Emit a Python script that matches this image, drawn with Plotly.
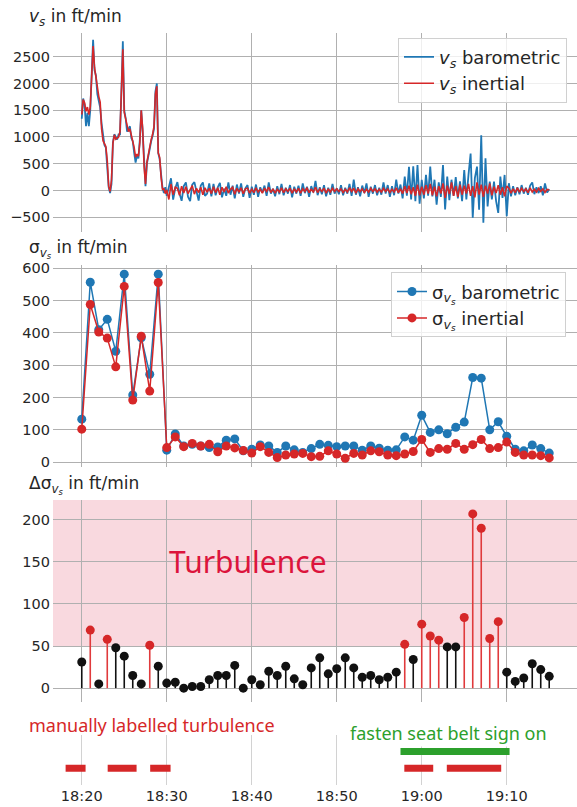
import pandas as pd
import plotly.graph_objects as go

DAY = "2021-06-01 "

# ---------------- data ----------------
# vertical speed v_s during climb, 10 s steps starting 18:20:00 (ft/min)
vs_baro_climb = [1340, 1720, 1600, 1200, 1450, 1200, 1500, 2250, 2820, 2250,
                 2150, 1800, 1700, 1550, 1250, 1000, 850, 800, 500, 60,
                 -50, 120, 900, 1050, 1000, 950, 1050, 1050, 1850, 2790,
                 1500, 1350, 1100, 1150, 1200, 980, 920, 700, 520, 650,
                 600, 950, 1500, 1100, 450, 80, 500, 650, 850, 920,
                 1020, 1150, 1850, 2000, 700, 580, 300, 50, -50, 60, -100]
vs_iner_climb = [1420, 1700, 1640, 1480, 1560, 1420, 1560, 2150, 2700, 2300,
                 2120, 1850, 1760, 1650, 1150, 930, 880, 820, 560, 80,
                 -20, 200, 880, 1040, 960, 980, 1000, 1100, 1900, 2640,
                 1460, 1340, 1200, 1100, 1150, 1050, 950, 800, 620, 680,
                 640, 900, 1500, 1150, 450, 120, 530, 700, 860, 950,
                 1050, 1200, 1800, 1950, 700, 620, 250, 20, 30, -60, 10]
# cruise part, 15 s steps starting 18:30:15 (ft/min)
vs_baro_cruise = [
    60, 228, -173, 40, 155, -60, -195, 80, 150, -120, -200, 110, 155, -50, -190, 90, 150, -100, -60, 130,
    -110, 120, -90, 60, 140, -130, 30, -100, 150, -80, 90, -150, 110, -60, 130, -120, 40, 100, -140, 70,
    -80, 110, -120, 60, -40, 90, -100, 150, -60, 30, -110, 80, -70, 120, -90, 50, -60, 100, -130, 70,
    -60, 90, -100, 130, -50, 70, -120, 80, -40, 180, -90, 60, -70, 100, -110, 50, -80, 120, -60, 40,
    -70, 100, -90, 50, -60, 120, -100, 200, -80, 60, -110, 90, -50, 130, -120, 70, -60, 100, -90, 50,
    -80, 150, -60, 100, -120, 80, -90, 200, -60, 110, -150, 260, -100, 440, -170, 450, -200, 475, -250, 200,
    -150, 290, -100, 445, -110, 200, -265, 150, -120, 475, -358, 260, -180, 200, -100, 250, -150, 170, -200, 380,
    -170, 290, 690, -510, 230, 445, -360, 1030, -605, 600, -300, 167, -170, 167, -200, -420, 260, -140, 290, -480,
    135, -110, 80, -90, 60, -70, 100, -60, 50, -80, 90, 150, -70, 60, -50, 80, -90, 130, -40, 20]
vs_iner_cruise = [
    -170, 120, -80, 60, 40, -90, 80, -50, 70, -60, 30, 90, -70, 40, -40, 60, -80, 50, -30, 40,
    -60, 70, -40, 50, -80, 60, -30, 70, -50, 20, 60, -70, 40, -30, 50, -60, 30, 40, -50, 20,
    -40, 50, -30, 20, -50, 40, -20, 60, -40, 30, -50, 20, -30, 50, -40, 30, -20, 40, -50, 30,
    -30, 40, -50, 30, -20, 50, -40, 20, -30, 60, -40, 30, -20, 40, -50, 30, -30, 40, -20, 30,
    -20, 30, -40, 20, -30, 50, -20, 40, -50, 30, -20, 30, -40, 20, -30, 40, -20, 30, -30, 20,
    -30, 40, -20, 30, -40, 20, -30, 50, -40, 30, -60, 80, -50, 90, -70, 60, -100, 110, -90, 70,
    -80, 100, -60, 120, -90, 70, -110, 80, -60, 130, -140, 90, -70, 150, -100, 80, -120, 110, -80, 90,
    -60, 120, -100, 80, -130, 150, -80, 110, -120, 90, -60, 130, -90, 70, -50, 100, -80, 60, -110, 80,
    40, -50, 30, -40, 50, -30, 40, -20, 30, -40, 50, -30, 20, -30, 40, -20, 30, -40, 20, 10]

# one-minute standard deviations, 18:20 ... 19:15
sigma_baro = [133, 557, 410, 442, 343, 582, 208, 385, 272, 582,
              37, 87, 50, 55, 50, 45, 47, 68, 72, 35,
              40, 53, 50, 30, 50, 38, 30, 42, 55, 52,
              48, 50, 50, 37, 50, 43, 37, 38, 78, 68,
              145, 92, 100, 88, 108, 124, 262, 260, 100, 125,
              80, 40, 35, 53, 42, 28]
sigma_iner = [102, 488, 403, 384, 295, 544, 192, 390, 220, 556,
              45, 78, 48, 58, 50, 55, 32, 50, 44, 36,
              28, 48, 30, 14, 22, 25, 27, 17, 18, 35,
              25, 12, 27, 22, 35, 32, 22, 20, 25, 33,
              70, 30, 42, 40, 58, 40, 54, 70, 42, 45,
              62, 30, 22, 22, 20, 13]
delta_sigma = [31, 69, 5, 58, 48, 38, 15, 5, 51, 26,
               6, 7, 0, 2, 2, 10, 15, 15, 27, 0,
               10, 4, 20, 15, 26, 11, 4, 24, 36, 17,
               23, 36, 24, 13, 15, 10, 13, 19, 52, 34,
               76, 62, 57, 49, 49, 84, 207, 190, 59, 79,
               19, 8, 12, 29, 22, 14]
threshold = 50

turbulence_labels = [("18:18:06", "18:20:27"), ("18:23:03", "18:26:27"),
                     ("18:28:03", "18:30:27"), ("18:57:57", "19:01:21"),
                     ("19:02:57", "19:09:21")]
seatbelt_on = ("18:57:30", "19:10:20")

# ---------------- derived time axes ----------------
t_climb = pd.date_range(DAY + "18:20:00", periods=len(vs_baro_climb), freq="10s")
t_cruise = pd.date_range(DAY + "18:30:15", periods=len(vs_baro_cruise), freq="15s")
t_vs = list(t_climb) + list(t_cruise)
vs_baro = vs_baro_climb + vs_baro_cruise
vs_iner = vs_iner_climb + vs_iner_cruise
t_min = list(pd.date_range(DAY + "18:20:00", periods=len(sigma_baro), freq="60s"))

BLUE = "#1f77b4"
RED = "#d62728"
GREEN = "#2ca02c"
GRID = "#b0b0b0"
TXT = "#262626"
FONT = "DejaVu Sans"

W, H = 577, 807
ML = 53
PW = W - ML


def px_x(p):
    return (p - ML) / PW


def px_y(p):
    return 1 - p / H


fig = go.Figure()

# panel 1: v_s
fig.add_trace(go.Scatter(x=t_vs, y=vs_baro, mode="lines", line=dict(color=BLUE, width=1.8),
                         name="<i>v<sub>s</sub></i> barometric", xaxis="x", yaxis="y", legend="legend"))
fig.add_trace(go.Scatter(x=t_vs, y=vs_iner, mode="lines", line=dict(color=RED, width=1.6),
                         name="<i>v<sub>s</sub></i> inertial", xaxis="x", yaxis="y", legend="legend"))

# panel 2: sigma
fig.add_trace(go.Scatter(x=t_min, y=sigma_baro, mode="lines+markers", line=dict(color=BLUE, width=1.5),
                         marker=dict(size=9, color=BLUE),
                         name="σ<sub><i>v<sub>s</sub></i></sub> barometric", xaxis="x2", yaxis="y2",
                         legend="legend2"))
fig.add_trace(go.Scatter(x=t_min, y=sigma_iner, mode="lines+markers", line=dict(color=RED, width=1.5),
                         marker=dict(size=9, color=RED),
                         name="σ<sub><i>v<sub>s</sub></i></sub> inertial", xaxis="x2", yaxis="y2",
                         legend="legend2"))

# panel 3: delta sigma stems
for is_turb, col in [(False, "#111111"), (True, "#e03a3c")]:
    sx, sy = [], []
    for t, d in zip(t_min, delta_sigma):
        if (d > threshold) == is_turb:
            sx += [t, t, None]
            sy += [0, d, None]
    fig.add_trace(go.Scatter(x=sx, y=sy, mode="lines", line=dict(color=col, width=1.6),
                             showlegend=False, xaxis="x3", yaxis="y3", hoverinfo="skip"))
fig.add_trace(go.Scatter(x=t_min, y=delta_sigma, mode="markers",
                         marker=dict(size=9, color=[RED if d > threshold else "#111111" for d in delta_sigma]),
                         showlegend=False, xaxis="x3", yaxis="y3"))

# panel 4: labelled turbulence and seat belt sign
lx, ly = [], []
for a, b in turbulence_labels:
    lx += [DAY + a, DAY + b, None]
    ly += [0, 0, None]
fig.add_trace(go.Scatter(x=lx, y=ly, mode="lines", line=dict(color=RED, width=7),
                         showlegend=False, xaxis="x4", yaxis="y4"))
fig.add_trace(go.Scatter(x=[DAY + seatbelt_on[0], DAY + seatbelt_on[1]], y=[1, 1], mode="lines",
                         line=dict(color=GREEN, width=7), showlegend=False, xaxis="x4", yaxis="y4"))

x_range = [DAY + "18:16:37", DAY + "19:18:16"]
xcommon = dict(range=x_range, type="date", tick0=DAY + "18:00", dtick=600000, showgrid=True,
               gridcolor=GRID, gridwidth=1.1, zeroline=False, showline=False, ticks="")
ycommon = dict(showgrid=True, gridcolor=GRID, gridwidth=1.1, zeroline=False, showline=False, ticks="",
               tickfont=dict(family=FONT, size=14.5, color=TXT), ticklabelstandoff=2)

doms = {
    1: [px_y(229.4), px_y(28)],
    2: [px_y(466.6), px_y(262.7)],
    3: [px_y(704), px_y(500)],
    4: [px_y(788), px_y(737)],
}

fig.update_layout(
    width=W, height=H,
    margin=dict(l=ML, r=0, t=0, b=0),
    plot_bgcolor="white", paper_bgcolor="white",
    font=dict(family=FONT, color=TXT),
    xaxis=dict(xcommon, domain=[0, 1], anchor="y", showticklabels=False),
    xaxis2=dict(xcommon, domain=[0, 1], anchor="y2", showticklabels=False, matches="x"),
    xaxis3=dict(xcommon, domain=[0, 1], anchor="y3", showticklabels=False, matches="x"),
    xaxis4=dict(xcommon, domain=[0, 1], anchor="y4", matches="x", showticklabels=True,
                tickformat="%H:%M", gridcolor="#d2d2d2",
                tickfont=dict(family=FONT, size=14.5, color=TXT)),
    yaxis=dict(ycommon, domain=doms[1], anchor="x", range=[-780, 2950],
               tickvals=[-500, 0, 500, 1000, 1500, 2000, 2500]),
    yaxis2=dict(ycommon, domain=doms[2], anchor="x2", range=[-15, 610],
                tickvals=[0, 100, 200, 300, 400, 500, 600]),
    yaxis3=dict(ycommon, domain=doms[3], anchor="x3", range=[-16.5, 223.5],
                tickvals=[0, 50, 100, 150, 200]),
    yaxis4=dict(domain=doms[4], anchor="x4", range=[-1, 2], showgrid=False, zeroline=False,
                showticklabels=False, showline=False, ticks=""),
    legend=dict(x=px_x(567), xanchor="right", y=px_y(33), yanchor="top",
                bordercolor="#d0d0d0", borderwidth=1, bgcolor="rgba(255,255,255,0.8)",
                font=dict(family=FONT, size=18, color=TXT), itemwidth=30, tracegroupgap=0),
    legend2=dict(x=px_x(566), xanchor="right", y=px_y(270), yanchor="top",
                 bordercolor="#d0d0d0", borderwidth=1, bgcolor="rgba(255,255,255,0.8)",
                 font=dict(family=FONT, size=18, color=TXT), itemwidth=30, tracegroupgap=0),
)

# turbulence band
fig.add_shape(type="rect", xref="x3 domain", yref="y3", x0=0, x1=1, y0=threshold, y1=223.5,
              fillcolor="#f9d9df", line_width=0, layer="below")

ann = [
    dict(text="<i>v<sub>s</sub></i> in ft/min", x=px_x(27), y=px_y(13)),
    dict(text="σ<sub><i>v<sub>s</sub></i></sub> in ft/min", x=px_x(27), y=px_y(246)),
    dict(text="Δσ<sub><i>v<sub>s</sub></i></sub> in ft/min", x=px_x(27), y=px_y(485)),
]
for a in ann:
    fig.add_annotation(xref="paper", yref="paper", xanchor="left", yanchor="middle", showarrow=False,
                       font=dict(family=FONT, size=17, color=TXT), **a)

fig.add_annotation(text="Turbulence", xref="x3", yref="y3", x=DAY + "18:30:00", y=150,
                   xanchor="left", yanchor="middle", showarrow=False,
                   font=dict(family="Noto Sans", size=30, color="#dc143c"))
fig.add_annotation(text="manually labelled turbulence", xref="paper", yref="paper",
                   x=px_x(27), y=px_y(727), xanchor="left", yanchor="middle", showarrow=False,
                   font=dict(family="Noto Sans", size=18, color=RED))
fig.add_annotation(text="fasten seat belt sign on", xref="paper", yref="paper",
                   x=px_x(348), y=px_y(735), xanchor="left", yanchor="middle", showarrow=False,
                   bgcolor="white", font=dict(family="Noto Sans", size=18, color=GREEN))

fig.write_html("out.html")
